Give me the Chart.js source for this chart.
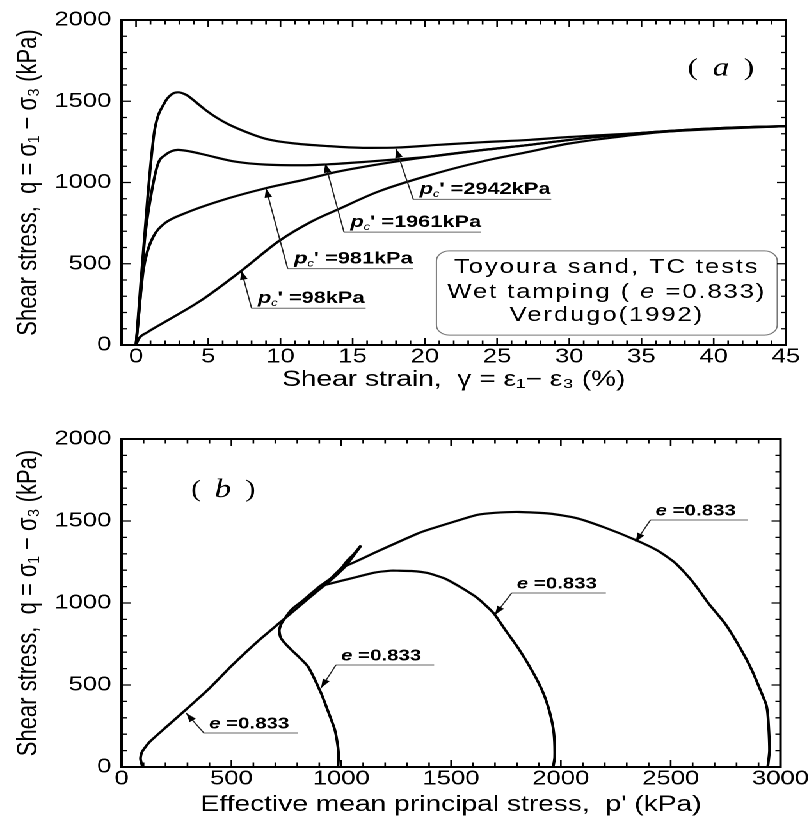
<!DOCTYPE html>
<html>
<head>
<meta charset="utf-8">
<script src="https://cdn.jsdelivr.net/npm/chart.js@4/dist/chart.umd.min.js"></script>
<style>
  html, body { margin: 0; padding: 0; background: #fff; overflow: hidden; }
  /* the original figure is stretched sideways, so draw narrow and widen it */
  #wrap { position: absolute; left: 0; top: 0; width: 632px; height: 822px;
          transform: scaleX(1.28); transform-origin: 0 0; }
  #c1 { position: absolute; left: 0; top: 0; }
  #c2 { position: absolute; left: 0; top: 410px; }
</style>
</head>
<body>
<div id="wrap">
  <canvas id="c1" width="632" height="410"></canvas>
  <canvas id="c2" width="632" height="412"></canvas>
</div>
<script>
// (a) shear strain (%) vs q (kPa)
const strain98 = [0, 0.2, 0.8, 2.2, 4.5, 7.3, 9.9, 12.2, 14.0, 16.8, 20.8, 24, 27.2, 30, 33.3, 36.5, 40, 45];
const q98 = [0, 40, 79, 152, 274, 457, 640, 762, 835, 945, 1057, 1130, 1189, 1240, 1280, 1311, 1332, 1347];

const strain981 = [0, 0.2, 0.5, 0.8, 1.3, 2.0, 3.4, 5.7, 8.9, 11.7, 14.0, 17, 20.3, 24, 27.2, 30, 33.3, 37, 41, 45];
const q981 = [0, 200, 457, 579, 683, 750, 811, 884, 963, 1018, 1067, 1115, 1159, 1200, 1231, 1262, 1292, 1318, 1337, 1347];

const strain1961 = [0, 0.3, 0.6, 1.0, 1.5, 2.0, 2.9, 3.8, 4.8, 6.9, 9.0, 11.5, 13.3, 16, 18, 20.3, 24, 27.2, 30, 33.3, 37, 41, 45];
const q1961 = [0, 300, 650, 902, 1110, 1168, 1201, 1190, 1170, 1128, 1110, 1106, 1112, 1128, 1142, 1159, 1200, 1231, 1262, 1292, 1318, 1337, 1347];

const strain2942 = [0, 0.3, 0.8, 1.1, 1.3, 2.0, 2.5, 2.9, 3.5, 4.0, 4.8, 5.6, 6.4, 8.0, 9.2, 11, 13.3, 15.9, 18, 21, 24, 27.2, 30, 34.2, 38, 41, 45];
const q2942 = [0, 350, 902, 1189, 1330, 1494, 1545, 1555, 1538, 1505, 1447, 1398, 1358, 1298, 1264, 1240, 1224, 1213, 1215, 1232, 1248, 1262, 1280, 1301, 1320, 1333, 1347];

// (b) effective mean principal stress p' (kPa) vs q (kPa)
const p98 = [95, 86, 92, 127, 200, 293, 400, 503, 623, 729, 804, 880, 953, 1020, 1090];
const qp98 = [0, 50, 90, 152, 240, 350, 480, 620, 770, 890, 975, 1060, 1140, 1225, 1352];

const p981 = [985, 988, 985, 971, 940, 908, 850, 800, 774, 740, 723, 718, 729, 774, 830, 900, 953, 1020, 1088];
const qp981 = [0, 60, 122, 226, 340, 451, 610, 680, 713, 760, 793, 835, 878, 960, 1020, 1100, 1150, 1230, 1345];

const p1961 = [1965, 1972, 1968, 1950, 1920, 1875, 1812, 1750, 1693, 1620, 1541, 1470, 1392, 1320, 1256, 1225, 1150, 1075, 1000, 925, 917, 960, 1020, 1088];
const qp1961 = [0, 60, 207, 330, 451, 573, 713, 830, 939, 1030, 1098, 1150, 1183, 1195, 1197, 1197, 1185, 1160, 1135, 1110, 1106, 1160, 1240, 1346];

const p2942 = [2942, 2950, 2943, 2935, 2914, 2870, 2822, 2750, 2672, 2600, 2521, 2440, 2341, 2200, 2070, 1950, 1812, 1700, 1618, 1500, 1392, 1347, 1166, 1070, 1008, 1030, 1060, 1090];
const qp2942 = [0, 100, 307, 380, 451, 590, 713, 870, 998, 1130, 1244, 1320, 1384, 1460, 1518, 1545, 1555, 1550, 1537, 1490, 1445, 1423, 1315, 1255, 1221, 1262, 1300, 1350];

const pcLabels = ['2942', '1961', '981', '98'];
const strainTicks = [0, 5, 10, 15, 20, 25, 30, 35, 40, 45];

const FONT = "'Liberation Sans', Arial, sans-serif";
const SERIF = "'Liberation Serif', 'Times New Roman', serif";
Chart.defaults.font.family = FONT;
Chart.defaults.color = '#000';

function pts(xs, ys) {
  return xs.map((x, i) => ({ x: x, y: ys[i] }));
}

function line(xs, ys, smooth) {
  return Object.assign({
    data: pts(xs, ys),
    showLine: true,
    pointRadius: 0,
    borderColor: '#000',
    borderWidth: 2.2,
    fill: false
  }, smooth);
}

function drawRuns(ctx, runs, x, y, align) {
  ctx.textAlign = 'left';
  let total = 0;
  runs.forEach(r => { ctx.font = r[1]; r.w = ctx.measureText(r[0]).width; total += r.w; });
  let cx = align === 'center' ? x - total / 2 : x;
  runs.forEach(r => {
    ctx.font = r[1];
    ctx.fillText(r[0], cx, y + (r[2] || 0));
    cx += r.w;
  });
}

function arrow(ctx, x0, y0, x1, y1) {
  ctx.beginPath();
  ctx.moveTo(x0, y0);
  ctx.lineTo(x1, y1);
  ctx.stroke();
  const a = Math.atan2(y1 - y0, x1 - x0);
  const L = 9, W = 3;
  ctx.beginPath();
  ctx.moveTo(x1, y1);
  ctx.lineTo(x1 - L * Math.cos(a) - W * Math.sin(a), y1 - L * Math.sin(a) + W * Math.cos(a));
  ctx.lineTo(x1 - L * Math.cos(a) + W * Math.sin(a), y1 - L * Math.sin(a) - W * Math.cos(a));
  ctx.closePath();
  ctx.fill();
}

// box with inward ticks on all four sides
function framePlugin(minorX, majorX, minorY, majorY) {
  return {
    id: 'frame',
    afterDraw(chart) {
      const { ctx, chartArea: a } = chart;
      const x = chart.scales.x, y = chart.scales.y;
      ctx.save();
      ctx.strokeStyle = '#000';
      ctx.lineWidth = 2;
      ctx.strokeRect(a.left, a.top, a.right - a.left, a.bottom - a.top);
      ctx.lineWidth = 1.3;
      ctx.beginPath();
      const nx = Math.round((x.max - x.min) / minorX);
      for (let i = 0; i <= nx; i++) {
        const v = x.min + i * minorX;
        const px = x.getPixelForValue(v);
        const len = Math.abs(v % majorX) < 1e-6 ? 7 : 4.5;
        ctx.moveTo(px, a.bottom); ctx.lineTo(px, a.bottom - len);
        ctx.moveTo(px, a.top); ctx.lineTo(px, a.top + len);
      }
      const ny = Math.round((y.max - y.min) / minorY);
      for (let i = 0; i <= ny; i++) {
        const v = y.min + i * minorY;
        const py = y.getPixelForValue(v);
        const len = Math.abs(v % majorY) < 1e-6 ? 7 : 4;
        ctx.moveTo(a.left, py); ctx.lineTo(a.left + len, py);
        ctx.moveTo(a.right, py); ctx.lineTo(a.right - len, py);
      }
      ctx.stroke();
      ctx.restore();
    }
  };
}

// pointer labels: tip of arrow, start of underline, end of underline (data units)
const topPointers = [
  { tip: [18.0, 1207], tail: [19.2, 896], end: 28.75 },
  { tip: [13.1, 1116], tail: [14.4, 695], end: 23.9 },
  { tip: [9.0, 963], tail: [10.5, 470], end: 19.2 },
  { tip: [7.3, 457], tail: [8.0, 226], end: 15.9 }
];
const bottomPointers = [
  { tip: [294, 329], tail: [375, 207], end: 804 },
  { tip: [908, 482], tail: [976, 622], end: 1423 },
  { tip: [1699, 927], tail: [1776, 1061], end: 2205 },
  { tip: [2340, 1372], tail: [2408, 1506], end: 2851 }
];

function drawParen(ctx, x, y, left, mid, right, letter) {
  const py = y.getPixelForValue(left[1]);
  ctx.fillStyle = '#000';
  ctx.font = '24px ' + SERIF;
  ctx.textAlign = 'left';
  ctx.fillText('(', x.getPixelForValue(left[0]), py);
  ctx.textAlign = 'right';
  ctx.fillText(')', x.getPixelForValue(right), py);
  ctx.textAlign = 'center';
  ctx.font = 'italic 26px ' + SERIF;
  ctx.fillText(letter, x.getPixelForValue(mid), py);
}

const topNotes = {
  id: 'notes',
  afterDatasetsDraw(chart) {
    const { ctx } = chart;
    const x = chart.scales.x, y = chart.scales.y;
    ctx.save();
    ctx.fillStyle = '#000';
    ctx.textBaseline = 'middle';
    topPointers.forEach((p, i) => {
      const tx = x.getPixelForValue(p.tail[0]), ty = y.getPixelForValue(p.tail[1]);
      const ex = x.getPixelForValue(p.end);
      ctx.strokeStyle = '#666';
      ctx.lineWidth = 1;
      ctx.beginPath(); ctx.moveTo(tx, ty); ctx.lineTo(ex, ty); ctx.stroke();
      ctx.strokeStyle = '#222';
      ctx.fillStyle = '#000';
      arrow(ctx, tx, ty, x.getPixelForValue(p.tip[0]), y.getPixelForValue(p.tip[1]));
      drawRuns(ctx, [
        ['p', 'italic bold 17px ' + FONT],
        ['c', 'italic 10px ' + FONT, 5],
        ["' =" + pcLabels[i] + 'kPa', 'bold 17px ' + FONT]
      ], tx + 5, ty - 10, 'left');
    });

    drawParen(ctx, x, y, [38.2, 1701], 40.5, 42.8, 'a');

    // info box
    const bx0 = x.getPixelForValue(20.8), bx1 = x.getPixelForValue(44.4);
    const by0 = y.getPixelForValue(579), by1 = y.getPixelForValue(61);
    ctx.fillStyle = '#fff';
    ctx.strokeStyle = '#777';
    ctx.lineWidth = 1;
    ctx.beginPath();
    ctx.roundRect(bx0, by0, bx1 - bx0, by1 - by0, 10);
    ctx.fill();
    ctx.stroke();
    ctx.fillStyle = '#000';
    ctx.letterSpacing = '1.5px';
    const cx = x.getPixelForValue(32.6);
    drawRuns(ctx, [['Toyoura sand, TC tests', '20px ' + FONT]], cx, y.getPixelForValue(476), 'center');
    drawRuns(ctx, [
      ['Wet tamping ( ', '20px ' + FONT],
      ['e', 'italic 20px ' + FONT],
      [' =0.833)', '20px ' + FONT]
    ], cx, y.getPixelForValue(323), 'center');
    drawRuns(ctx, [['Verdugo(1992)', '20px ' + FONT]], cx, y.getPixelForValue(183), 'center');
    ctx.restore();
  }
};

const bottomNotes = {
  id: 'notes',
  afterDatasetsDraw(chart) {
    const { ctx } = chart;
    const x = chart.scales.x, y = chart.scales.y;
    ctx.save();
    ctx.textBaseline = 'middle';
    bottomPointers.forEach(p => {
      const tx = x.getPixelForValue(p.tail[0]), ty = y.getPixelForValue(p.tail[1]);
      const ex = x.getPixelForValue(p.end);
      ctx.strokeStyle = '#666';
      ctx.lineWidth = 1;
      ctx.beginPath(); ctx.moveTo(tx, ty); ctx.lineTo(ex, ty); ctx.stroke();
      ctx.strokeStyle = '#222';
      ctx.fillStyle = '#000';
      arrow(ctx, tx, ty, x.getPixelForValue(p.tip[0]), y.getPixelForValue(p.tip[1]));
      drawRuns(ctx, [
        ['e', 'italic bold 16px ' + FONT],
        [' =0.833', 'bold 16px ' + FONT]
      ], tx + 4, ty - 9, 'left');
    });

    drawParen(ctx, x, y, [316, 1689], 461, 610, 'b');
    ctx.restore();
  }
};

const tickFont = { size: 20, family: FONT };
const titleFont = { size: 22, family: FONT };
const plain = v => String(v);

new Chart(document.getElementById('c1'), {
  type: 'scatter',
  data: {
    datasets: [
      line(strain98, q98, { cubicInterpolationMode: 'monotone' }),
      line(strain981, q981, { cubicInterpolationMode: 'monotone' }),
      line(strain1961, q1961, { cubicInterpolationMode: 'monotone' }),
      line(strain2942, q2942, { cubicInterpolationMode: 'monotone' })
    ]
  },
  options: {
    responsive: false,
    devicePixelRatio: 2,
    animation: false,
    layout: { padding: { top: 17, right: 18, bottom: 0, left: 0 } },
    plugins: { legend: { display: false }, tooltip: { enabled: false } },
    scales: {
      x: {
        type: 'linear', min: -1, max: 45,
        grid: { display: false, drawTicks: false },
        border: { display: false },
        ticks: {
          stepSize: 5, includeBounds: false, autoSkip: false, maxRotation: 0,
          padding: 0, font: tickFont,
          callback: v => strainTicks.includes(v) ? String(v) : ''
        },
        title: { display: true, text: 'Shear strain,  γ = ε₁− ε₃ (%)', font: titleFont, padding: { top: 0, bottom: 17 } },
        afterFit: s => { s.height = 65; }
      },
      y: {
        type: 'linear', min: 0, max: 2000,
        grid: { display: false, drawTicks: false },
        border: { display: false },
        ticks: { stepSize: 500, padding: 8, font: tickFont, callback: plain },
        title: { display: true, text: 'Shear stress,  q = σ₁ − σ₃ (kPa)', font: titleFont, padding: { top: 9, bottom: 0 } },
        afterFit: s => { s.width = 95; }
      }
    }
  },
  plugins: [framePlugin(1, 5, 100, 500), topNotes]
});

new Chart(document.getElementById('c2'), {
  type: 'scatter',
  data: {
    datasets: [
      line(p98, qp98, { tension: 0.2 }),
      line(p981, qp981, { tension: 0.2 }),
      line(p1961, qp1961, { tension: 0.2 }),
      line(p2942, qp2942, { tension: 0.2 })
    ]
  },
  options: {
    responsive: false,
    devicePixelRatio: 2,
    animation: false,
    layout: { padding: { top: 29, right: 18, bottom: 0, left: 0 } },
    plugins: { legend: { display: false }, tooltip: { enabled: false } },
    scales: {
      x: {
        type: 'linear', min: 0, max: 3000,
        grid: { display: false, drawTicks: false },
        border: { display: false },
        ticks: { stepSize: 500, autoSkip: false, maxRotation: 0, padding: 0, font: tickFont, callback: plain },
        title: { display: true, text: "Effective mean principal stress,  p' (kPa)", font: titleFont, padding: { top: 0, bottom: 4 } },
        afterFit: s => { s.height = 55; }
      },
      y: {
        type: 'linear', min: 0, max: 2000,
        grid: { display: false, drawTicks: false },
        border: { display: false },
        ticks: { stepSize: 500, padding: 8, font: tickFont, callback: plain },
        title: { display: true, text: 'Shear stress,  q = σ₁ − σ₃ (kPa)', font: titleFont, padding: { top: 9, bottom: 0 } },
        afterFit: s => { s.width = 95; }
      }
    }
  },
  plugins: [framePlugin(100, 500, 100, 500), bottomNotes]
});
</script>
</body>
</html>
